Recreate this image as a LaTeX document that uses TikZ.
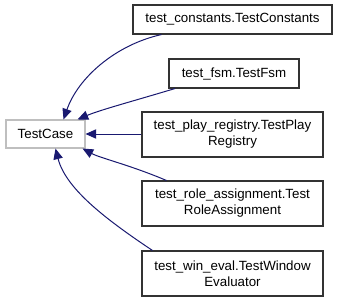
\documentclass[tikz,border=0pt]{standalone}
\usepackage{fontspec}
\setmainfont{Liberation Sans}
\usetikzlibrary{arrows.meta}
\definecolor{edgeblue}{HTML}{191970}
\tikzset{
  cls/.style={draw=black!80, line width=0.8pt, fill=white, align=center,
    inner sep=0pt, font=\fontsize{10}{12}\selectfont},
  base/.style={cls, draw=black!25},
  inherit/.style={draw=edgeblue, line width=0.75pt,
    -{Triangle[length=8pt,width=7pt]}},
}
\begin{document}
\begin{tikzpicture}[x=0.75pt,y=-0.75pt]
\useasboundingbox (0,0) rectangle (339,301);
\node[base, minimum width=59.25pt, minimum height=21pt] (tc) at (45.5,134) {TestCase};
\node[cls, minimum width=149.25pt, minimum height=21.75pt] (c1) at (232.5,19.5) {test\_constants.TestConstants};
\node[cls, minimum width=97.5pt, minimum height=21.75pt] (c2) at (234,73.5) {test\_fsm.TestFsm};
\node[cls, minimum width=135.75pt, minimum height=33.75pt] (c3) at (232.5,134.5) {test\_play\_registry.TestPlay\\Registry};
\node[cls, minimum width=135.75pt, minimum height=33.75pt] (c4) at (232.5,203.5) {test\_role\_assignment.Test\\RoleAssignment};
\node[cls, minimum width=135.75pt, minimum height=33.75pt] (c5) at (232.5,273.5) {test\_win\_eval.TestWindow\\Evaluator};
% inheritance edges, each ending on the base class
\draw[inherit] ([xshift=21.75pt]c1.south west)
  .. controls (115,45) and (78,78) .. ([xshift=13.5pt]tc.north);
\draw[inherit] ([xshift=-44.25pt]c2.south)
  .. controls (130,102) and (100,110) .. ([xshift=-6pt]tc.north east);
\draw[inherit] (c3.west |- tc.east) -- (tc.east);
\draw[inherit] ([xshift=18.75pt]c4.north west)
  .. controls (130,165) and (100,158) .. ([xshift=-2.25pt]tc.south east);
\draw[inherit] ([xshift=8.25pt]c5.north west)
  .. controls (110,222) and (66,190) .. ([xshift=7.5pt]tc.south);
\end{tikzpicture}
\end{document}
